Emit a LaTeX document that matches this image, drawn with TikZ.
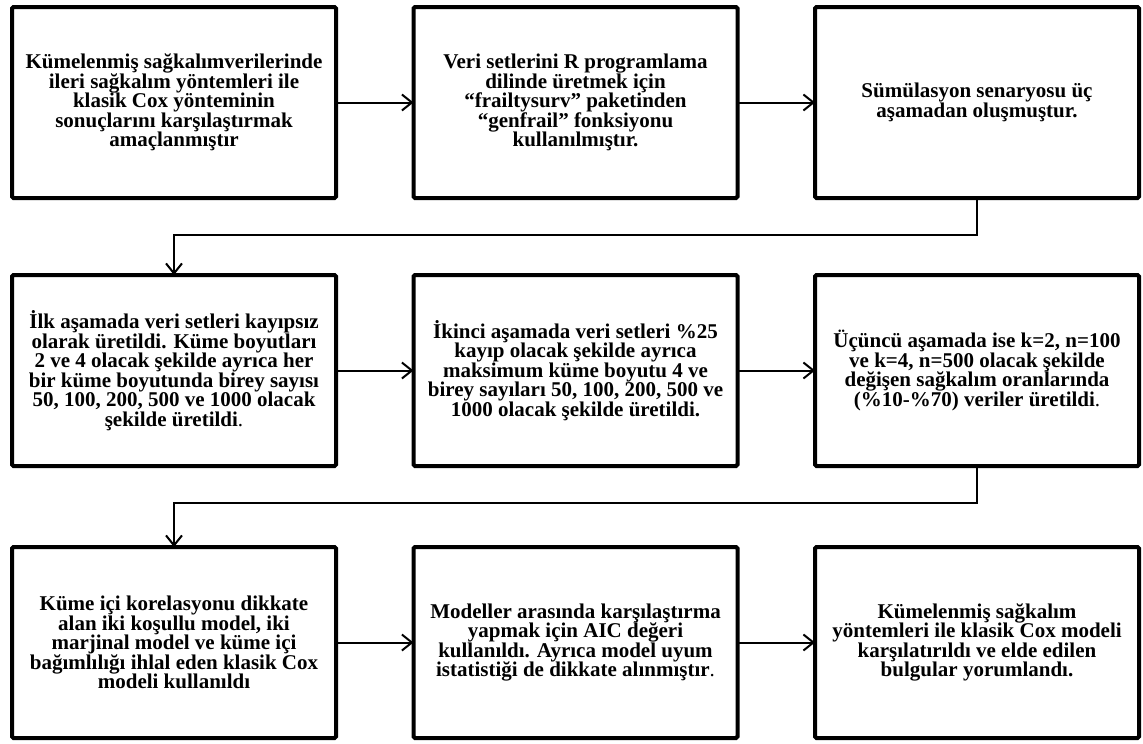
\documentclass[tikz,border=0pt]{standalone}
\usepackage{fontspec}
\setmainfont{Liberation Serif}
\usepackage{tikz}
\usetikzlibrary{arrows.meta, positioning}

\begin{document}
\begin{tikzpicture}[
    x=1pt, y=1pt,
    box/.style={draw, line width=4pt, rounded corners=1.5pt, outer sep=0pt, minimum width=324pt, minimum height=191pt, align=center, font=\fontsize{21pt}{19.5pt}\selectfont\bfseries},
    arrow/.style={-{Straight Barb[length=10pt, width=16pt, line width=2pt]}, line width=2pt}
]
\useasboundingbox (0,0) rectangle (1143,-744);

\node[box] (aim) at (174,-102.5) {Kümelenmiş sağkalımverilerinde\\ileri sağkalım yöntemleri ile\\klasik Cox yönteminin\\sonuçlarını karşılaştırmak\\amaçlanmıştır};
\node[box, right=77.5pt of aim] (tool) {Veri setlerini R programlama\\dilinde üretmek için\\“frailtysurv” paketinden\\“genfrail” fonksiyonu\\kullanılmıştır.};
\node[box, right=77.5pt of tool] (scenario) {Sümülasyon senaryosu üç\\aşamadan oluşmuştur.};

\node[box, below=77pt of aim] (stageone) {İlk aşamada veri setleri kayıpsız\\olarak üretildi. Küme boyutları\\2 ve 4 olacak şekilde ayrıca her\\bir küme boyutunda birey sayısı\\50, 100, 200, 500 ve 1000 olacak\\şekilde üretildi{\mdseries .}};
\node[box, right=77.5pt of stageone] (stagetwo) {İkinci aşamada veri setleri \%25\\kayıp olacak şekilde ayrıca\\maksimum küme boyutu 4 ve\\birey sayıları 50, 100, 200, 500 ve\\1000 olacak şekilde üretildi.};
\node[box, right=77.5pt of stagetwo] (stagethree) {Üçüncü aşamada ise k=2, n=100\\ve k=4, n=500 olacak şekilde\\değişen sağkalım oranlarında\\(\%10-\%70) veriler üretildi{\mdseries .}};

\node[box, below=81pt of stageone] (models) {Küme içi korelasyonu dikkate\\alan iki koşullu model, iki\\marjinal model ve küme içi\\bağımlılığı ihlal eden klasik Cox\\modeli kullanıldı};
\node[box, right=77.5pt of models] (aic) {Modeller arasında karşılaştırma\\yapmak için AIC değeri\\kullanıldı. Ayrıca model uyum\\istatistiği de dikkate alınmıştır{\mdseries .}};
\node[box, right=77.5pt of aic] (results) {Kümelenmiş sağkalım\\yöntemleri ile klasik Cox modeli\\karşılatırıldı ve elde edilen\\bulgular yorumlandı.};

\draw[arrow] (aim) -- (tool);
\draw[arrow] (tool) -- (scenario);
\draw[arrow] (scenario.south) -- ++(0,-37) -| (stageone.north);
\draw[arrow] (stageone) -- (stagetwo);
\draw[arrow] (stagetwo) -- (stagethree);
\draw[arrow] (stagethree.south) -- ++(0,-37) -| (models.north);
\draw[arrow] (models) -- (aic);
\draw[arrow] (aic) -- (results);

\end{tikzpicture}
\end{document}
